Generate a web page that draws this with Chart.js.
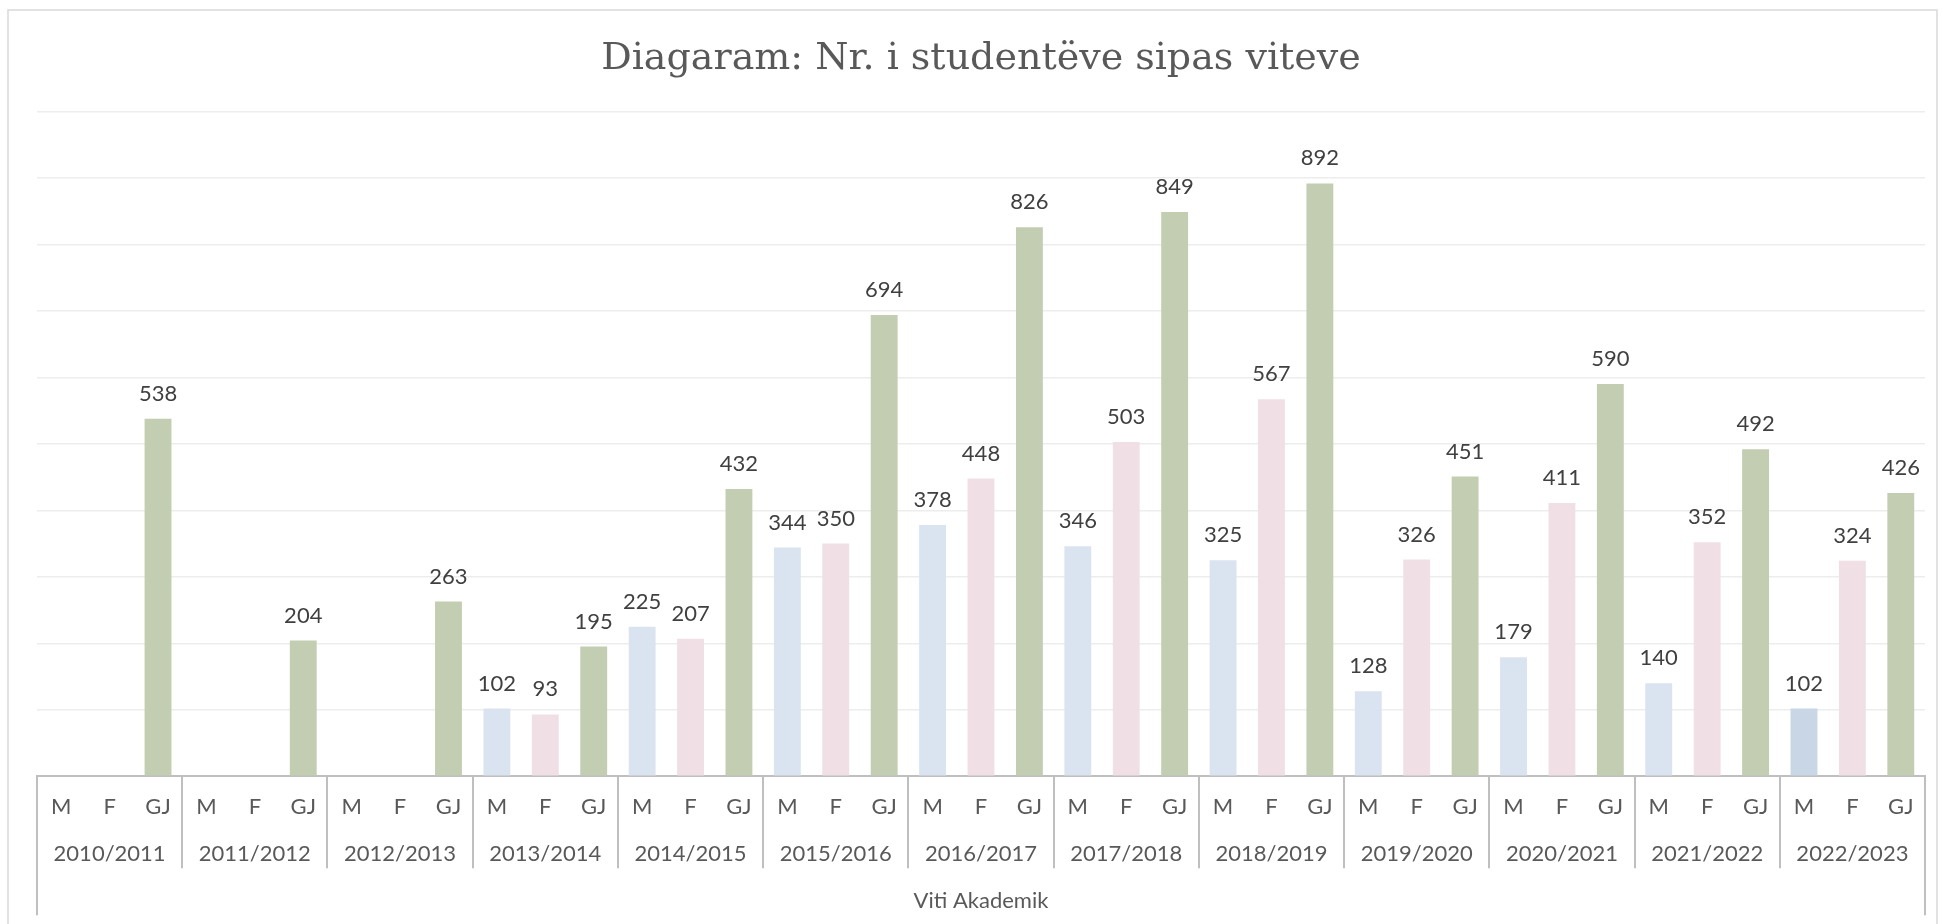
<!DOCTYPE html>
<html>
<head>
<meta charset="utf-8">
<script src="https://cdn.jsdelivr.net/npm/chart.js@4.4.1/dist/chart.umd.min.js"></script>
<style>
  body { margin: 0; background: #fff; }
  #wrap { width: 1943px; height: 924px; }
</style>
</head>
<body>
<div id="wrap"><canvas id="chart" width="1943" height="924"></canvas></div>
<script>
// academic years (outer axis level) and the three columns per year
const years = ['2010/2011', '2011/2012', '2012/2013', '2013/2014', '2014/2015', '2015/2016', '2016/2017',
  '2017/2018', '2018/2019', '2019/2020', '2020/2021', '2021/2022', '2022/2023'];
const sexes = ['M', 'F', 'GJ'];

// number of students per year
const male = [null, null, null, 102, 225, 344, 378, 346, 325, 128, 179, 140, 102];
const female = [null, null, null, 93, 207, 350, 448, 503, 567, 326, 411, 352, 324];
const total = [538, 204, 263, 195, 432, 694, 826, 849, 892, 451, 590, 492, 426];

const yMax = 1000;
const yStep = 100;

// flatten to one category per bar: M, F, GJ for every year
const labels = [];
const values = [];
years.forEach((yr, i) => {
  labels.push(...sexes);
  values.push(male[i], female[i], total[i]);
});

const barColors = { M: '#dae3f0', F: '#f0dfe5', GJ: '#c2cdb2' };

const frame = {
  id: 'frame',
  beforeDraw(chart) {
    const ctx = chart.ctx;
    ctx.save();
    ctx.fillStyle = '#ffffff';
    ctx.fillRect(0, 0, chart.width, chart.height);
    ctx.strokeStyle = '#d9d9d9';
    ctx.lineWidth = 1.5;
    ctx.strokeRect(8, 10, 1929, 940);
    ctx.restore();
  }
};

const valueLabels = {
  id: 'valueLabels',
  afterDatasetsDraw(chart) {
    const ctx = chart.ctx;
    const meta = chart.getDatasetMeta(0);
    ctx.save();
    ctx.fillStyle = '#404040';
    ctx.font = '22px Lato';
    ctx.textAlign = 'center';
    ctx.textBaseline = 'middle';
    meta.data.forEach((bar, i) => {
      const v = values[i];
      if (v === null) return;
      ctx.fillText(String(v), bar.x, bar.y - 25);
    });
    ctx.restore();
  }
};

// second level of the category axis: year names and separators
const multiLevelAxis = {
  id: 'multiLevelAxis',
  afterDraw(chart) {
    const { ctx, chartArea, scales: { x } } = chart;
    ctx.save();
    ctx.strokeStyle = '#bfbfbf';
    ctx.lineWidth = 2;
    for (let g = 0; g <= years.length; g++) {
      const px = Math.round(x.getPixelForValue(g * sexes.length - 0.5));
      const edge = g === 0 || g === years.length;
      ctx.beginPath();
      ctx.moveTo(px, chartArea.bottom);
      ctx.lineTo(px, x.top + (edge ? 139 : 92));
      ctx.stroke();
    }
    ctx.fillStyle = '#595959';
    ctx.font = '22px Lato';
    ctx.textAlign = 'center';
    ctx.textBaseline = 'middle';
    years.forEach((yr, g) => {
      ctx.fillText(yr, x.getPixelForValue(g * sexes.length + 1), x.top + 78);
    });
    ctx.restore();
  }
};

new Chart(document.getElementById('chart'), {
  type: 'bar',
  data: {
    labels: labels,
    datasets: [{
      data: values,
      backgroundColor: (c) => (c.dataIndex === values.length - 3 ? '#c9d6e6' : barColors[labels[c.dataIndex]]),
      barPercentage: 0.555,
      categoryPercentage: 1
    }]
  },
  options: {
    responsive: false,
    animation: false,
    events: [],
    layout: { padding: { left: 37, right: 18, top: 0, bottom: 0 } },
    plugins: {
      legend: { display: false },
      tooltip: { enabled: false },
      title: {
        display: true,
        text: 'Diagaram: Nr. i studentëve sipas viteve',
        color: '#595959',
        font: { family: 'DejaVu Serif', size: 38, weight: 'normal' },
        padding: { top: 36, bottom: 30 }
      }
    },
    scales: {
      x: {
        grid: { display: false, drawTicks: false },
        border: { display: true, color: '#bfbfbf', width: 2 },
        ticks: {
          color: '#595959',
          font: { family: 'Lato', size: 22 },
          padding: 18,
          maxRotation: 0,
          autoSkip: false
        },
        title: {
          display: true,
          text: 'Viti Akademik',
          color: '#595959',
          font: { family: 'Lato', size: 22 },
          padding: { top: 49, bottom: 10 }
        }
      },
      y: {
        min: 0,
        max: yMax,
        ticks: { display: false, stepSize: yStep },
        grid: { color: '#ededed', lineWidth: 1.5, drawTicks: false },
        border: { display: false }
      }
    }
  },
  plugins: [frame, valueLabels, multiLevelAxis]
});
</script>
</body>
</html>
